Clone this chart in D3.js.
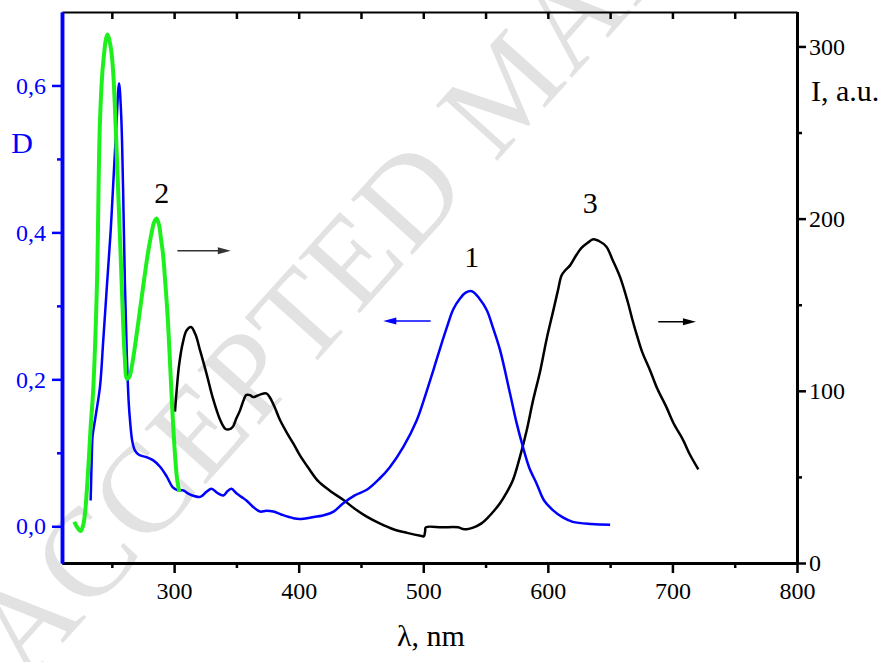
<!DOCTYPE html>
<html>
<head>
<meta charset="utf-8">
<script src="https://cdn.jsdelivr.net/npm/d3@7"></script>
<style>
  body { margin: 0; background: #fff; }
  svg { display: block; font-family: "Liberation Serif", "Times New Roman", serif; }
</style>
</head>
<body>
<svg id="chart"></svg>
<script>
// 曲線1 (吸収, 左軸 D)
const lam1 = [233, 234, 234.5, 237, 240.5, 243, 246, 249, 251, 253.5, 255.8, 257.5, 259, 260.5, 262, 263.5, 264.6, 266.5, 268.6, 272, 278, 283, 288.7, 294, 299, 303, 307, 313, 321, 326, 330, 335, 339.5, 343, 346, 350, 354, 358, 363, 369, 374, 379.6, 386, 395.7, 401, 410, 420, 428, 435.5, 445, 455, 465, 473, 484, 494.7, 502, 508, 514, 519, 524, 529.5, 534, 539, 545, 551, 556, 561.6, 569.6, 575, 580, 585, 591, 597, 604, 612, 620, 635, 650];
const d1 = [0.035, 0.10, 0.122, 0.15, 0.19, 0.25, 0.326, 0.40, 0.462, 0.54, 0.603, 0.56, 0.462, 0.33, 0.235, 0.17, 0.144, 0.115, 0.103, 0.097, 0.094, 0.09, 0.081, 0.068, 0.053, 0.049, 0.049, 0.043, 0.040, 0.047, 0.051, 0.045, 0.042, 0.048, 0.051, 0.045, 0.040, 0.035, 0.027, 0.020, 0.021, 0.020, 0.016, 0.011, 0.010, 0.012, 0.015, 0.020, 0.031, 0.042, 0.050, 0.065, 0.080, 0.108, 0.144, 0.180, 0.212, 0.245, 0.271, 0.295, 0.310, 0.318, 0.320, 0.310, 0.294, 0.270, 0.240, 0.181, 0.140, 0.108, 0.080, 0.058, 0.035, 0.022, 0.012, 0.006, 0.003, 0.002];

// 曲線2 (励起, 右軸 I)
const lam2 = [219.9, 222, 225, 227, 228.5, 231, 233, 235, 238, 240.5, 243, 246.4, 249, 251, 253, 255, 257, 259, 260.5, 262, 264, 266, 269, 272.6, 276, 279, 282, 284, 286, 288, 289.5, 291, 293, 295, 297, 299, 301, 302.5, 304.2];
const i2 = [24, 21, 18.6, 22, 29, 54, 79, 100, 160, 257, 290, 307, 300, 286, 255, 218, 180, 141, 118, 107, 108, 114, 128, 147, 165, 180, 192, 198, 200, 196, 188, 180, 162, 141, 112, 83, 60, 48, 41.4];

// 曲線3 (発光, 右軸 I)
const lam3 = [300.7, 302, 304, 307, 310, 313.5, 317, 321, 326, 331, 337, 341, 344, 347, 350, 353, 356, 358, 361, 363, 365, 369, 374, 377, 381, 385, 391, 396, 401, 408, 415.7, 425, 436, 445, 454.6, 465, 476, 487, 498.7, 500.5, 501.5, 502, 515, 528, 532, 535, 540, 546.7, 552, 557, 561.6, 567, 572, 577, 583, 588, 594, 599, 604.5, 608, 611, 614, 618, 623, 627, 632, 636.5, 641, 647, 652, 658, 664, 668, 672, 676, 682, 688, 695, 701, 708.6, 714, 720.8];
const i3 = [87.9, 100, 115, 128, 135, 137, 133, 123, 110, 96, 83, 78, 77.6, 79, 84, 88.8, 95, 97.6, 97.5, 96.5, 96.6, 97.8, 98.5, 96, 90, 83, 75, 69, 62.5, 55, 47.5, 42, 36.6, 31.5, 26.9, 23, 19.6, 17.5, 15.7, 15.5, 18.5, 20.7, 20.7, 20.7, 19.7, 19.6, 20.5, 23, 26.5, 30.5, 34.7, 41, 48.2, 60, 77, 94, 112, 130, 147, 158, 167, 170, 173, 179, 183, 186, 188, 187, 183.7, 176, 166, 152, 141, 131, 122, 112, 101, 90.8, 81, 71.4, 63, 54.4];

// 目盛り
const xMajor = [300, 400, 500, 600, 700, 800];
const xMinor = [250, 350, 450, 550, 650, 750];
const dMajor = [0, 0.2, 0.4, 0.6];
const dMinor = [0.1, 0.3, 0.5];
const iMajor = [0, 100, 200, 300];
const iMinor = [50, 150, 250];

// 注記 (番号ラベルと矢印)
const curveLabels = [
  { text: "2", lam: 290, i: 209 },
  { text: "1", lam: 539, i: 172 },
  { text: "3", lam: 634, i: 203 }
];
const arrows = [
  { from: 302.6, to: 345.5, i: 181.4, color: "#333" },
  { from: 505.9, to: 467.9, i: 140.5, color: "#0000ff" },
  { from: 688.6, to: 718.9, i: 140.1, color: "#000" }
];

// 表示サイズを設定
const size = { width: 894, height: 662 };
const margin = { top: 12, right: 97, bottom: 99, left: 62 };
const width = size.width - margin.left - margin.right;
const height = size.height - margin.top - margin.bottom;

const root = d3.select("#chart")
  .attr("width", size.width)
  .attr("height", size.height);

// 透かし
root.append("text")
  .attr("transform", "translate(26,684) rotate(-48)")
  .attr("font-size", 126)
  .attr("fill", "#e2e2e2")
  .attr("letter-spacing", 2)
  .text("ACCEPTED MANUSCRIPT");

const svg = root.append("g")
  .attr("transform", "translate(" + margin.left + "," + margin.top + ")");

const x = d3.scaleLinear().domain([210, 800]).range([0, width]);
const yD = d3.scaleLinear().domain([-0.05, 0.7]).range([height, 0]);
const yI = d3.scaleLinear().domain([0, 320]).range([height, 0]);

const fmtD = v => d3.format(".1f")(v).replace(".", ",");

function styleAxis(g, color, w) {
  g.select(".domain").attr("stroke", color).attr("stroke-width", w);
  g.selectAll(".tick line").attr("stroke", color).attr("stroke-width", 2.5);
  g.selectAll(".tick text").attr("fill", color).attr("font-family", "Liberation Serif").attr("font-size", 24);
}

// 下軸
svg.append("g").attr("transform", "translate(0," + height + ")")
  .call(d3.axisBottom(x).tickValues(xMinor).tickSize(5).tickSizeOuter(0).tickFormat(""))
  .call(g => styleAxis(g, "#000", 3));
svg.append("g").attr("transform", "translate(0," + height + ")")
  .call(d3.axisBottom(x).tickValues(xMajor).tickSize(10).tickPadding(9).tickSizeOuter(0))
  .call(g => styleAxis(g, "#000", 3));

// 上軸 (内向き)
svg.append("g")
  .call(d3.axisTop(x).tickValues(xMajor.concat(xMinor)).tickSize(-7).tickSizeOuter(0).tickFormat(""))
  .call(g => styleAxis(g, "#000", 2));

// 右軸 I
svg.append("g").attr("transform", "translate(" + width + ",0)")
  .call(d3.axisRight(yI).tickValues(iMinor).tickSize(5).tickSizeOuter(0).tickFormat(""))
  .call(g => styleAxis(g, "#000", 3));
svg.append("g").attr("transform", "translate(" + width + ",0)")
  .call(d3.axisRight(yI).tickValues(iMajor).tickSize(9).tickPadding(3).tickSizeOuter(0))
  .call(g => styleAxis(g, "#000", 3));

// 左軸 D
svg.append("g")
  .call(d3.axisLeft(yD).tickValues(dMinor).tickSize(5).tickSizeOuter(0).tickFormat(""))
  .call(g => styleAxis(g, "#0000ff", 3.5));
svg.append("g")
  .call(d3.axisLeft(yD).tickValues(dMajor).tickSize(10).tickPadding(6).tickSizeOuter(0).tickFormat(fmtD))
  .call(g => styleAxis(g, "#0000ff", 3.5));

// 曲線
const lineD = d3.line().x(d => x(d[0])).y(d => yD(d[1])).curve(d3.curveCatmullRom);
const lineI = d3.line().x(d => x(d[0])).y(d => yI(d[1])).curve(d3.curveCatmullRom);

svg.append("path")
  .datum(d3.zip(lam3, i3))
  .attr("fill", "none").attr("stroke", "#000").attr("stroke-width", 2.5)
  .attr("stroke-linejoin", "round")
  .attr("d", lineI);

svg.append("path")
  .datum(d3.zip(lam1, d1))
  .attr("fill", "none").attr("stroke", "#0000ff").attr("stroke-width", 2.5)
  .attr("stroke-linejoin", "round")
  .attr("d", lineD);

svg.append("path")
  .datum(d3.zip(lam2, i2))
  .attr("fill", "none").attr("stroke", "#1ef01e").attr("stroke-width", 4)
  .attr("stroke-linejoin", "round")
  .attr("d", lineI);

// 番号ラベル
svg.selectAll(".clabel").data(curveLabels).enter().append("text")
  .attr("x", d => x(d.lam))
  .attr("y", d => yI(d.i))
  .attr("text-anchor", "middle")
  .attr("font-size", 30)
  .attr("fill", "#000")
  .text(d => d.text);

// 矢印
arrows.forEach(a => {
  const dir = a.to > a.from ? 1 : -1;
  const x0 = x(a.from), x1 = x(a.to), yy = yI(a.i);
  svg.append("line")
    .attr("x1", x0).attr("x2", x1 - dir * 8)
    .attr("y1", yy).attr("y2", yy)
    .attr("stroke", a.color).attr("stroke-width", 1.5);
  svg.append("path")
    .attr("d", "M" + x1 + "," + yy + "L" + (x1 - dir * 13) + "," + (yy - 3.5) + "L" + (x1 - dir * 13) + "," + (yy + 3.5) + "Z")
    .attr("fill", a.color);
});

// 軸タイトル
root.append("text")
  .attr("x", 22).attr("y", 153)
  .attr("text-anchor", "middle")
  .attr("font-size", 30).attr("fill", "#0000ff")
  .text("D");
root.append("text")
  .attr("x", 811).attr("y", 101)
  .attr("font-size", 30).attr("fill", "#000")
  .text("I, a.u.");
root.append("text")
  .attr("x", 431).attr("y", 646)
  .attr("text-anchor", "middle")
  .attr("font-size", 30).attr("fill", "#000")
  .text("λ, nm");
</script>
</body>
</html>
